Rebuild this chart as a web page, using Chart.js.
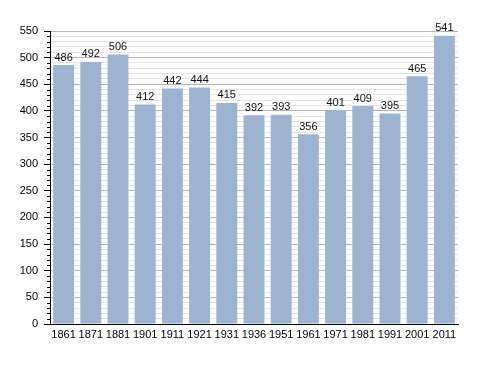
<!DOCTYPE html>
<html><head><meta charset="utf-8">
<script src="https://cdn.jsdelivr.net/npm/chart.js@4/dist/chart.umd.min.js"></script>
<style>html,body{margin:0;padding:0;background:#fff}canvas{display:block}</style>
</head><body>
<canvas id="c" width="488" height="373"></canvas>
<script>
const years = ["1861","1871","1881","1901","1911","1921","1931","1936","1951","1961","1971","1981","1991","2001","2011"];
const population = [486,492,506,412,442,444,415,392,393,356,401,409,395,465,541];
const yMax = 550;
const yMajorStep = 50;
const yMinorStep = 10;

const FONT = "'Liberation Sans', Arial, sans-serif";

const valueLabels = {
  id: 'valueLabels',
  afterDatasetsDraw(chart) {
    const ctx = chart.ctx;
    const meta = chart.getDatasetMeta(0);
    ctx.save();
    ctx.font = "11px " + FONT;
    ctx.fillStyle = '#111';
    ctx.textAlign = 'center';
    ctx.textBaseline = 'bottom';
    meta.data.forEach((bar, i) => {
      ctx.fillText(String(population[i]), bar.x, bar.y - 2);
    });
    ctx.restore();
  }
};

const minorTicks = {
  id: 'minorTicks',
  afterDraw(chart) {
    const y = chart.scales.y;
    const ctx = chart.ctx;
    const x0 = chart.chartArea.left;
    ctx.save();
    ctx.strokeStyle = '#000';
    ctx.lineWidth = 1;
    for (let v = 0; v <= yMax; v += yMinorStep) {
      if (v % yMajorStep === 0) continue;
      const py = Math.round(y.getPixelForValue(v)) + 0.5;
      ctx.beginPath();
      ctx.moveTo(x0 - 3, py);
      ctx.lineTo(x0, py);
      ctx.stroke();
    }
    ctx.restore();
  }
};

new Chart(document.getElementById('c'), {
  type: 'bar',
  data: {
    labels: years,
    datasets: [{
      data: population,
      backgroundColor: '#9cb4d0',
      borderWidth: 0,
      barPercentage: 0.77,
      categoryPercentage: 1.0
    }]
  },
  options: {
    responsive: false,
    animation: false,
    devicePixelRatio: 1,
    layout: { padding: { left: 0, right: 30, top: 31, bottom: 0 } },
    plugins: { legend: { display: false }, tooltip: { enabled: false } },
    scales: {
      x: {
        grid: { display: false, drawTicks: false },
        border: { display: true, color: '#000', width: 1 },
        ticks: { color: '#000', font: { size: 11, family: FONT }, padding: 4, maxRotation: 0, autoSkip: false },
        afterFit(s) { s.height = 49; }
      },
      y: {
        min: 0, max: yMax,
        grid: {
          color: ctx => (ctx.tick && ctx.tick.value % yMajorStep === 0) ? '#b4b4b4' : '#e4e4e4',
          drawTicks: true,
          tickLength: 6,
          tickColor: ctx => (ctx.tick && ctx.tick.value % yMajorStep === 0) ? '#000' : 'rgba(0,0,0,0)'
        },
        border: { display: true, color: '#000', width: 1 },
        ticks: {
          stepSize: yMinorStep,
          autoSkip: false,
          color: '#000',
          font: { size: 11, family: FONT },
          padding: 6,
          callback: v => (v % yMajorStep === 0) ? String(v) : ''
        },
        afterFit(s) { s.width = 50; }
      }
    }
  },
  plugins: [valueLabels, minorTicks]
});
</script>
</body></html>
